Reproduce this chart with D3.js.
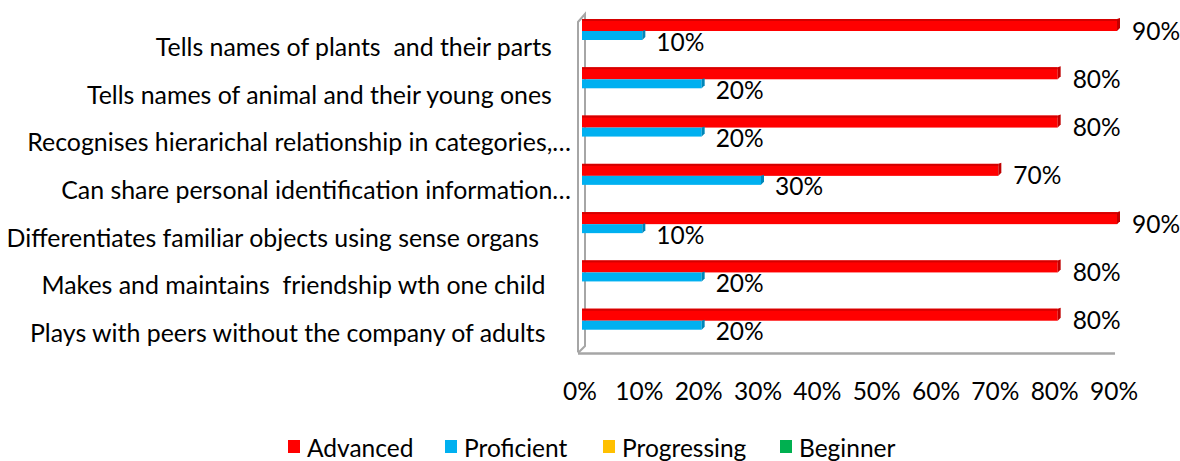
<!DOCTYPE html>
<html>
<head>
<meta charset="utf-8">
<script src="https://cdn.jsdelivr.net/npm/d3@7"></script>
<style>
  html, body { margin: 0; padding: 0; background: #fff; }
  svg { display: block; font-family: Lato, "Open Sans", sans-serif; }
  svg text { white-space: pre; }
</style>
</head>
<body>
<svg id="chart" width="1180" height="461"></svg>
<script>
// Skill indicators, top to bottom
const categories = [
  "Tells names of plants  and their parts   ",
  "Tells names of animal and their young ones   ",
  "Recognises hierarichal relationship in categories,…",
  "Can share personal identification information…",
  "Differentiates familiar objects using sense organs     ",
  "Makes and maintains  friendship wth one child    ",
  "Plays with peers without the company of adults    "
];
const advanced   = [0.9, 0.8, 0.8, 0.7, 0.9, 0.8, 0.8];
const proficient = [0.1, 0.2, 0.2, 0.3, 0.1, 0.2, 0.2];
const seriesNames = ["Advanced", "Proficient", "Progressing", "Beginner"];
const seriesColors = ["#FF0000", "#00B0F0", "#FFC000", "#00B050"];
const xTicks = [0, 0.1, 0.2, 0.3, 0.4, 0.5, 0.6, 0.7, 0.8, 0.9];

const svg = d3.select("#chart");
const pct = d3.format(".0%");
const FS = 24.5;

const x = d3.scaleLinear().domain([0, 0.9]).range([583, 1117]);
const y = d3.scaleBand().domain(categories).range([14, 352]).padding(0);
const yLabel = d3.scalePoint().domain(categories).range([46, 332]);

const wall = "#A6A6A6";
const g = svg.append("g");

// Side wall and floor edge of the 3D plot area
const wallPath = d3.path();
wallPath.moveTo(578, 352); wallPath.lineTo(578, 22); wallPath.lineTo(585, 14); wallPath.lineTo(585, 346); wallPath.lineTo(578, 353);
g.append("path").attr("d", wallPath.toString()).attr("fill", "none")
  .attr("stroke", wall).attr("stroke-width", 2);
g.append("line").attr("x1", 578).attr("x2", x(0.9) - 2).attr("y1", 353.5).attr("y2", 353.5)
  .attr("stroke", wall).attr("stroke-width", 2.5);

// Draws a flat bar with a thin top face and a darker right side
function bar3d(sel, x0, x1, top, h, fill, dark, topShade) {
  sel.append("rect").attr("x", x0).attr("y", top).attr("width", x1 - x0).attr("height", h).attr("fill", fill);
  if (topShade) {
    sel.append("rect").attr("x", x0).attr("y", top).attr("width", x1 - x0).attr("height", 2).attr("fill", topShade);
  }
  sel.append("path")
    .attr("d", `M${x1},${top} L${x1 + 3},${top - 1} L${x1 + 3},${top + h - 3} L${x1},${top + h} Z`)
    .attr("fill", dark);
}

const rows = g.selectAll("g.row").data(categories).join("g").attr("class", "row");
rows.each(function (c, i) {
  const row = d3.select(this);
  const b = y(c);
  // Advanced (back)
  bar3d(row, x(0) - 1, x(advanced[i]), b + 5, 12, "#FF0000", "#C00000", "#D40000");
  // Proficient (front)
  bar3d(row, x(0) - 1, x(proficient[i]), b + 17, 9, "#00B0F0", "#0086B8", null);
  row.append("text").attr("x", x(advanced[i]) + 15).attr("y", b + 16)
    .attr("dominant-baseline", "central").attr("font-size", FS).attr("fill", "#000")
    .text(pct(advanced[i]));
  row.append("text").attr("x", x(proficient[i]) + 14).attr("y", b + 27)
    .attr("dominant-baseline", "central").attr("font-size", FS).attr("fill", "#000")
    .text(pct(proficient[i]));
});

// Category labels
g.selectAll("text.cat").data(categories).join("text").attr("class", "cat")
  .attr("x", 571).attr("y", d => yLabel(d))
  .attr("text-anchor", "end").attr("dominant-baseline", "central")
  .attr("font-size", 24.9).attr("fill", "#000").text(d => d);

// Value axis labels
g.selectAll("text.tick").data(xTicks).join("text").attr("class", "tick")
  .attr("x", d => x(d) - 3).attr("y", 390)
  .attr("text-anchor", "middle").attr("dominant-baseline", "central")
  .attr("font-size", FS).attr("fill", "#000").text(d => pct(d));

// Legend
const legendX = [288, 445, 603, 780];
const leg = svg.selectAll("g.leg").data(seriesNames).join("g").attr("class", "leg")
  .attr("transform", (d, i) => `translate(${legendX[i]},440)`);
leg.append("rect").attr("width", 12).attr("height", 13).attr("fill", (d, i) => seriesColors[i]);
leg.append("text").attr("x", 19).attr("y", 7).attr("dominant-baseline", "central")
  .attr("font-size", FS).attr("fill", "#000").text(d => d);
</script>
</body>
</html>
